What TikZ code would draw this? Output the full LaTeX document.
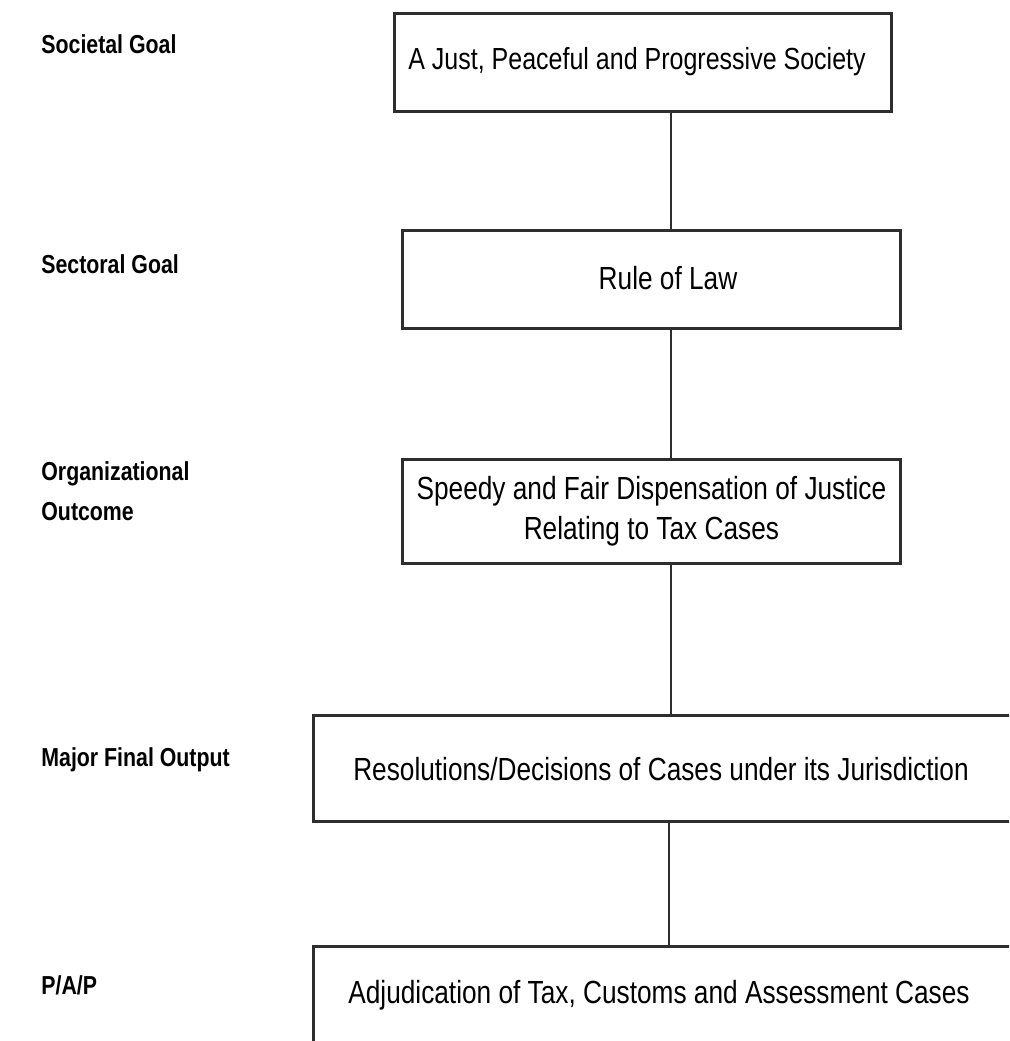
\documentclass[tikz,border=0pt]{standalone}
\usepackage{fontspec}
\setmainfont{Liberation Sans}[FakeStretch=0.82]
\usetikzlibrary{positioning,calc}
\definecolor{inkline}{rgb}{0.18,0.18,0.18}

\begin{document}
\begin{tikzpicture}[x=1pt, y=-1pt, line width=2.8pt,
  box/.style={draw=inkline, inner sep=0pt, anchor=north west, minimum height=98pt,
    font=\fontsize{32}{40}\selectfont, align=center},
  boxtext/.style={font=\fontsize{32}{40}\selectfont, align=center, inner sep=0pt},
  level/.style={font=\fontsize{26}{40}\selectfont\bfseries, anchor=west, align=left, inner sep=0pt}]
\useasboundingbox (0,0) rectangle (1009,1041);
\clip (0,0) rectangle (1009,1041);

% Boxes
\node[box, minimum width=497pt] (goal) at (393,12) {};
\node[box, minimum width=498pt] (sector) at (401,229) {};
\node[box, minimum width=498pt, minimum height=104pt] (outcome) at (401,458)
  {Speedy and Fair Dispensation of Justice\\Relating to Tax Cases};
% the two lower boxes run off the page
\node[box, minimum width=720pt, minimum height=106pt] (mfo) at (312,714) {};
\node[box, minimum width=720pt, minimum height=140pt] (pap) at (312,945) {};

% Texts set off the box centre
\node[boxtext, font=\fontsize{30.5}{40}\selectfont] (tgoal) at (637,62) {A Just, Peaceful and Progressive Society};
\node[boxtext] (tsector) at (668,278) {Rule of Law};
\node[boxtext] (tmfo) at (661,769) {Resolutions/Decisions of Cases under its Jurisdiction};
\node[boxtext] (tpap) at (659,995) {Adjudication of Tax, Customs and Assessment Cases};

% Level labels
\node[level] (lgoal) at (40,44) {Societal Goal};
\node[level] (lsector) at (40,264) {Sectoral Goal};
\node[level] (loutcome) at (40,491) {Organizational\\Outcome};
\node[level] (lmfo) at (40,760) {Major Final Output};
\node[level] (lpap) at (40,985) {P/A/P};

% Connectors
\coordinate (spine) at (671,0);
\draw[inkline] (goal.south -| spine) -- (sector.north -| spine);
\draw[inkline] (sector.south -| spine) -- (outcome.north -| spine);
\draw[inkline] (outcome.south -| spine) -- (mfo.north -| spine);
\draw[inkline] ([xshift=-2pt]mfo.south -| spine) -- ([xshift=-2pt]pap.north -| spine);
\end{tikzpicture}
\end{document}
